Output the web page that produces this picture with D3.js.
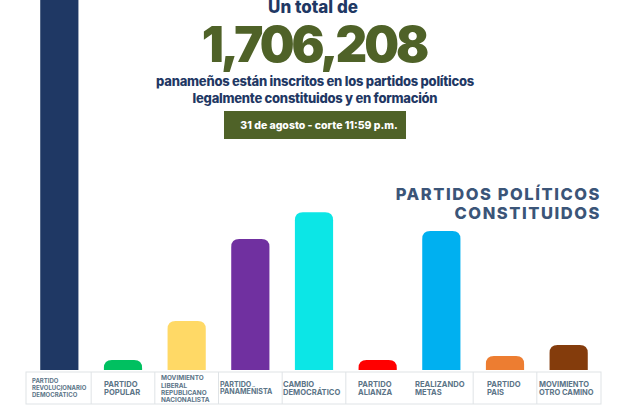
<!DOCTYPE html>
<html><head><meta charset="utf-8">
<script src="https://cdn.jsdelivr.net/npm/d3@7"></script>
<style>html,body{margin:0;background:#fff}svg{display:block}text{font-family:Inter,"Noto Sans",sans-serif}</style>
</head><body><svg id="c" width="630" height="405"></svg>
<script>
const parties=["PRD","POPULAR","MOLIRENA","PANAMENISTA","CD","ALIANZA","RM","PAIS","MOCA"];
const members=[720000,18000,88000,236000,284000,18000,250000,25000,45000];
const colors=["#1f3864","#00c060","#ffd966","#7030a0","#0ce6e6","#ff0000","#00b0f0","#ed7d31","#843c0c"];
const labels=[["PARTIDO","REVOLUCIONARIO","DEMOCRÁTICO"],["PARTIDO","POPULAR"],["MOVIMIENTO","LIBERAL","REPUBLICANO","NACIONALISTA"],["PARTIDO","PANAMEÑISTA"],["CAMBIO","DEMOCRÁTICO"],["PARTIDO","ALIANZA"],["REALIZANDO","METAS"],["PARTIDO","PAIS"],["MOVIMIENTO","OTRO CAMINO"]];
const svg=d3.select("#c");
const x=d3.scaleBand().domain(parties).range([27.5,600.5]).paddingInner(0.4).paddingOuter(0.2);
const y=d3.scaleLinear().domain([0,720000]).range([370,-30]);
const rr=8;
svg.append("g").selectAll("path").data(parties).join("path")
 .attr("fill",(d,i)=>colors[i])
 .attr("d",(d,i)=>{const a=x(d),b=a+x.bandwidth(),t=y(members[i]),h=y(0),r=Math.min(rr,h-t);
   return `M${a},${h}V${t+r}Q${a},${t} ${a+r},${t}H${b-r}Q${b},${t} ${b},${t+r}V${h}Z`;});
const left=d=>x(d)-x.step()*x.paddingInner()/2;
const tbl=svg.append("g");
tbl.append("rect").attr("x",26).attr("y",372).attr("width",575).attr("height",32).attr("fill","none").attr("stroke","#dfe3e6").attr("stroke-width",1);
parties.slice(1).forEach(p=>{ if(p!=="RM") tbl.append("line").attr("x1",left(p)).attr("x2",left(p)).attr("y1",372).attr("y2",404).attr("stroke","#dfe3e6");});
const fs=[6,7.6,6.4,7.1,7.6,7.6,7.6,7.6,7.5];
const dx=[32,104,161,220,283,358,415,487,539];
const leading=[7.2,7.8,7.4,7.8,7.8,7.8,7.8,7.8,7.8];
const yc=[388,388,389,388,388,388,388,388,388];
labels.forEach((l,i)=>{
 const t=svg.append("text").attr("fill","#5b7487").attr("font-weight",700).attr("font-size",fs[i]);
 l.forEach((s,j)=>t.append("tspan").attr("x",dx[i]).attr("y",yc[i]+(j-(l.length-1)/2)*leading[i]+fs[i]*.36).text(s));
});
const T=(s,xx,yy,size,fill,w,anchor="middle",ls=0)=>svg.append("text").attr("x",xx).attr("y",yy).attr("font-size",size).attr("fill",fill).attr("font-weight",w).attr("text-anchor",anchor).attr("letter-spacing",ls).text(s);
T("Un total de",313,13,17,"#1f3864",800);
T("1,706,208",314,62,49,"#4f6228",900,"middle",-3);
T("panameños están inscritos en los partidos políticos",315,86,13,"#1f3864",800,"middle",-.25);
T("legalmente constituidos y en formación",315,103,13,"#1f3864",800,"middle",-.25);
svg.append("rect").attr("x",224).attr("y",111).attr("width",182).attr("height",28).attr("fill","#4f6228");
T("31 de agosto - corte 11:59 p.m.",319,129,10.5,"#fff",800);
T("PARTIDOS POLÍTICOS",601,200,16.5,"#3b5578",800,"end",1.55);
T("CONSTITUIDOS",601,219,16.5,"#3b5578",800,"end",1.55);
</script></body></html>
